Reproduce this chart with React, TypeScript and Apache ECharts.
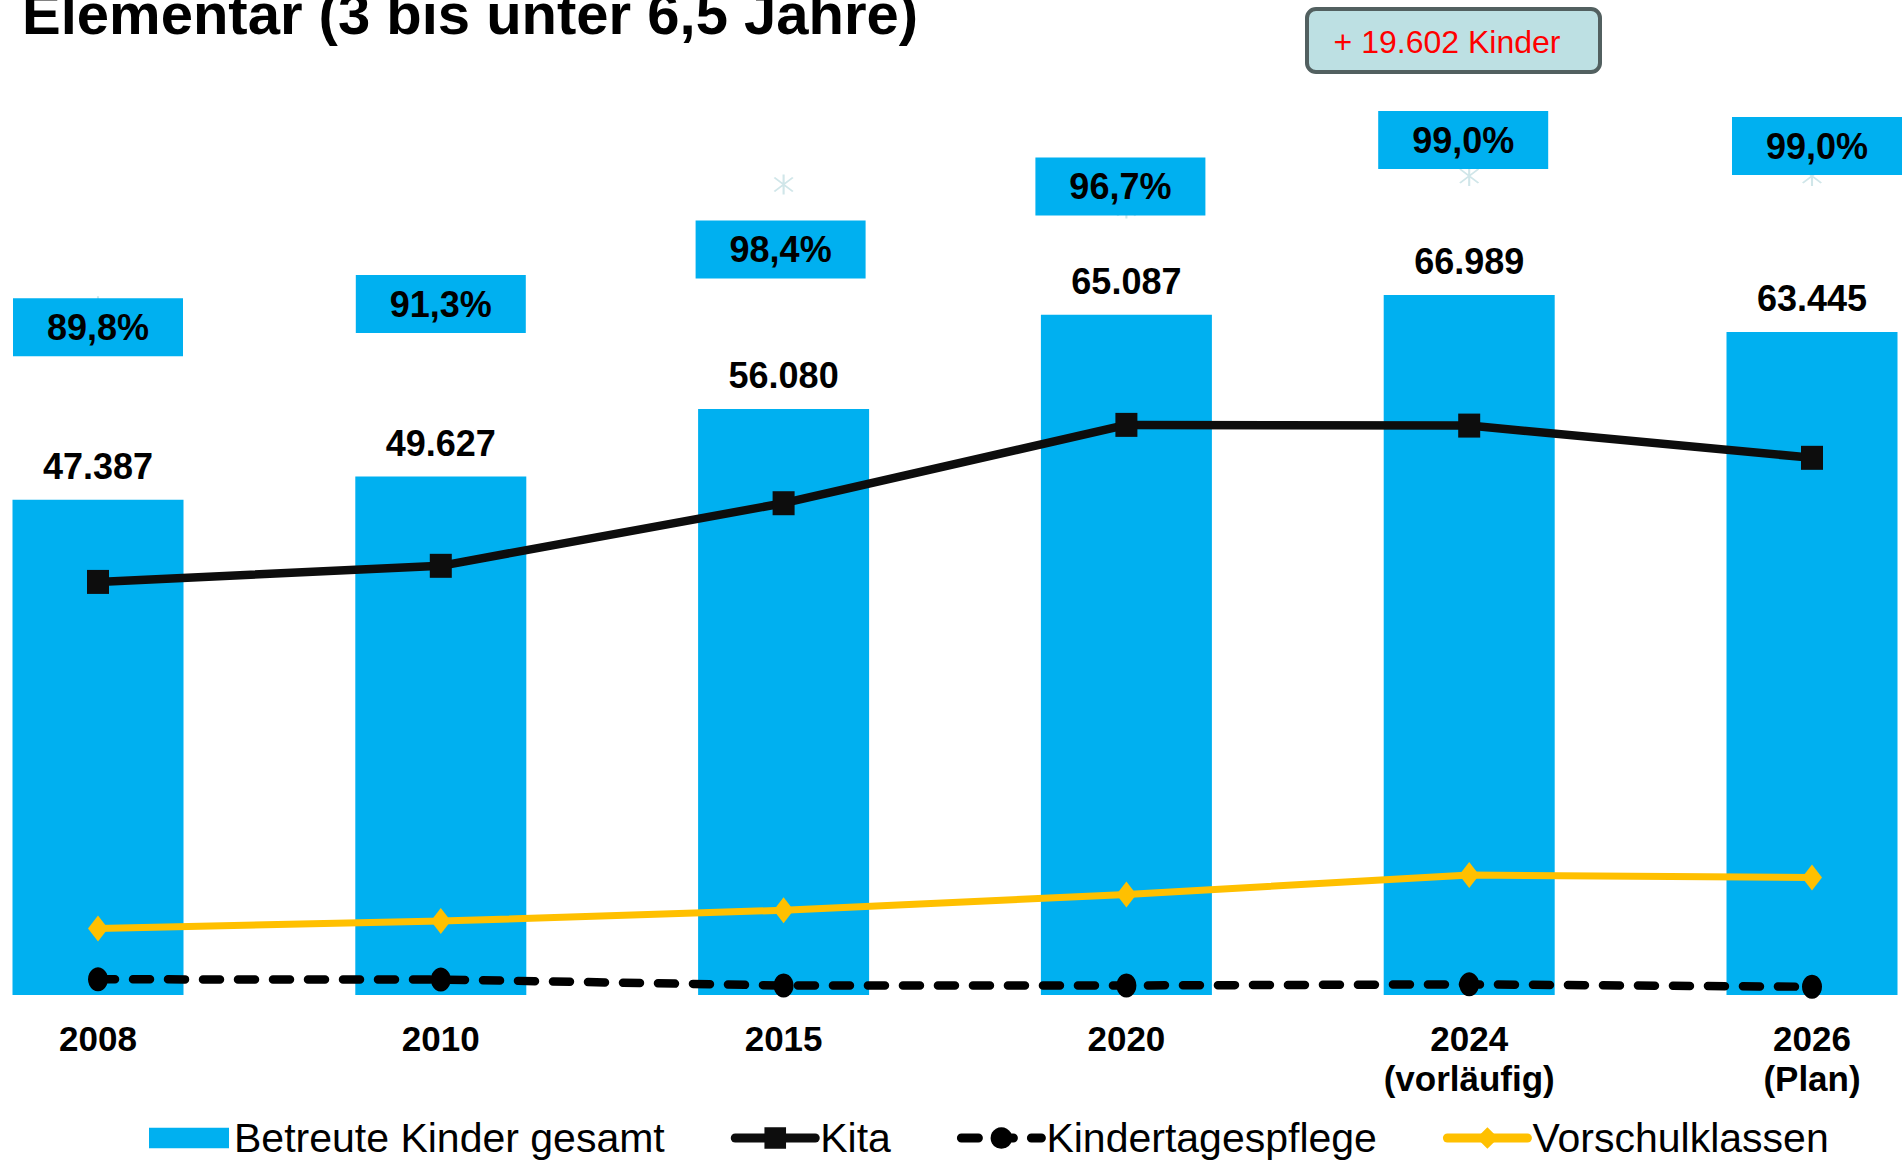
import React, { useEffect, useRef } from 'react';
import * as echarts from 'echarts';

// ---- Data ----
const categories = ['2008', '2010', '2015', '2020', '2024\n(vorläufig)', '2026\n(Plan)'];
const betreuteGesamt = [47387, 49627, 56080, 65087, 66989, 63445];
const kita = [39530, 41070, 47060, 54557, 54489, 51405];
const kindertagespflege = [1500, 1480, 910, 910, 1020, 790];
const vorschulklassen = [6370, 7070, 8110, 9620, 11480, 11250];
const betreuungsquote = [89.8, 91.3, 98.4, 96.7, 99.0, 99.0];
const legendNames = ['Betreute Kinder gesamt', 'Kita', 'Kindertagespflege', 'Vorschulklassen'];
const titleText = 'Elementar (3 bis unter 6,5 Jahre)';

// label placement of the percentage boxes relative to their markers (layout only)
const quoteLabelOffsets = [[0, 21], [0, 19], [-3, 65], [-6, -22], [-6, -36], [5, -30]];

const FONT = '"Liberation Sans", Arial, Helvetica, sans-serif';

const fmtThousands = (v: number) => {
  const s = Math.round(Math.abs(v)).toString();
  const out = s.replace(/\B(?=(\d{3})+(?!\d))/g, '.');
  return (v < 0 ? '-' : '') + out;
};
const fmtPct = (v: number) => v.toFixed(1).replace('.', ',') + '%';

const STAR_PATH =
  'path://M9.2,0 L10.8,0 L10.8,20 L9.2,20 Z ' +
  'M3.57,2.43 L17.57,16.43 L16.43,17.57 L2.43,3.57 Z ' +
  'M16.43,2.43 L17.57,3.57 L3.57,17.57 L2.43,16.43 Z';

const BAR_LEGEND_ICON = 'path://M0,0 L74,0 L74,19 L0,19 Z';

export default function App() {
  const ref = useRef<HTMLDivElement>(null);

  useEffect(() => {
    document.body.style.margin = '0';
    document.body.style.overflow = 'hidden';
    if (!ref.current) return;
    const chart = echarts.init(ref.current, undefined, { renderer: 'svg' });

    const diff = betreuteGesamt[4] - betreuteGesamt[0];

    const option: any = {
      animation: false,
      backgroundColor: '#ffffff',
      textStyle: { fontFamily: FONT },
      grid: { left: 98, right: 91, top: 159, bottom: 165, containLabel: false },
      xAxis: {
        type: 'category',
        data: categories,
        boundaryGap: false,
        axisLine: { show: false },
        axisTick: { show: false },
        splitLine: { show: false },
        axisLabel: {
          interval: 0,
          fontSize: 35,
          fontWeight: 'bold',
          color: '#000',
          fontFamily: FONT,
          lineHeight: 40,
          margin: 23,
        },
      },
      yAxis: [
        { type: 'value', min: 0, max: 80000, show: false, splitLine: { show: false } },
        { type: 'value', min: 41.2, max: 100.2, show: false, splitLine: { show: false } },
      ],
      legend: {
        data: [
          { name: legendNames[0], icon: BAR_LEGEND_ICON },
          { name: legendNames[1] },
          { name: legendNames[2] },
          { name: legendNames[3] },
        ],
        left: 144,
        top: 1111,
        itemWidth: 80,
        itemHeight: 27,
        itemGap: 66,
        symbolKeepAspect: true,
        lineStyle: { width: 9, cap: 'round' },
        textStyle: { fontSize: 41, color: '#000', fontFamily: FONT, lineHeight: 44 },
      },
      graphic: [
        {
          type: 'text',
          x: 22,
          y: 13,
          style: {
            text: titleText,
            fontSize: 58,
            fontWeight: 'bold',
            fontFamily: FONT,
            fill: '#000',
            verticalAlign: 'middle',
          },
        },
        {
          type: 'rect',
          shape: { x: 1307, y: 9, width: 293, height: 63, r: 9 },
          style: { fill: '#bde0e3', stroke: '#526060', lineWidth: 4 },
        },
        {
          type: 'text',
          x: 1447,
          y: 42,
          style: {
            text: '+ ' + fmtThousands(diff) + ' Kinder',
            fontSize: 32,
            fontFamily: FONT,
            fill: '#ff0000',
            align: 'center',
            verticalAlign: 'middle',
          },
        },
      ],
      series: [
        {
          name: legendNames[0],
          type: 'bar',
          data: betreuteGesamt,
          barWidth: 171,
          clip: false,
          itemStyle: { color: '#00b0f0' },
          label: {
            show: true,
            position: 'top',
            distance: 13,
            formatter: (p: any) => fmtThousands(p.value),
            fontSize: 36,
            fontWeight: 'bold',
            color: '#000',
            fontFamily: FONT,
            lineHeight: 40,
          },
          z: 1,
        },
        {
          name: 'Betreuungsquote',
          type: 'scatter',
          yAxisIndex: 1,
          data: betreuungsquote.map((v, i) => ({ value: v, label: { offset: quoteLabelOffsets[i] } })),
          symbol: STAR_PATH,
          symbolSize: 20,
          clip: false,
          itemStyle: { color: '#d0e6e9', opacity: 1 },
          label: {
            show: true,
            position: 'inside',
            formatter: (p: any) => fmtPct(p.value),
            backgroundColor: '#00b0f0',
            width: 170,
            height: 58,
            lineHeight: 58,
            align: 'center',
            verticalAlign: 'middle',
            fontSize: 36,
            fontWeight: 'bold',
            color: '#000',
            opacity: 1,
            fontFamily: FONT,
          },
          z: 2,
        },
        {
          name: legendNames[1],
          type: 'line',
          data: kita,
          symbol: 'rect',
          symbolSize: [22, 24],
          showSymbol: true,
          clip: false,
          lineStyle: { color: '#0d0d0d', width: 8.5 },
          itemStyle: { color: '#0d0d0d' },
          z: 3,
        },
        {
          name: legendNames[2],
          type: 'line',
          data: kindertagespflege,
          symbol: 'circle',
          symbolSize: [20, 24],
          showSymbol: true,
          clip: false,
          lineStyle: { color: '#000', width: 8.5, type: [17, 18], cap: 'round' },
          itemStyle: { color: '#000' },
          z: 3,
        },
        {
          name: legendNames[3],
          type: 'line',
          data: vorschulklassen,
          symbol: 'diamond',
          symbolSize: [20, 26],
          showSymbol: true,
          clip: false,
          lineStyle: { color: '#ffc000', width: 7 },
          itemStyle: { color: '#ffc000' },
          z: 3,
        },
      ],
    };

    chart.setOption(option);
    return () => chart.dispose();
  }, []);

  return <div ref={ref} style={{ width: 1903, height: 1160 }} />;
}
